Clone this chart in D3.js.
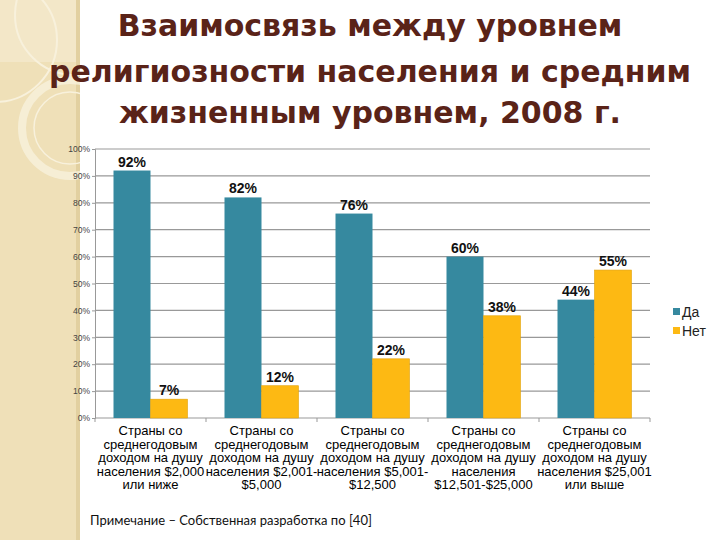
<!DOCTYPE html>
<html>
<head>
<meta charset="utf-8">
<script src="https://cdn.jsdelivr.net/npm/d3@7"></script>
<style>
  html, body { margin: 0; padding: 0; background: #fff; }
  svg { display: block; }
</style>
</head>
<body>
<svg id="chart" width="720" height="540"></svg>
<script>
// значения с диаграммы
const categories = [
  ["Страны со", "среднегодовым", "доходом на душу", "населения $2,000", "или ниже"],
  ["Страны со", "среднегодовым", "доходом на душу", "населения $2,001-", "$5,000"],
  ["Страны со", "среднегодовым", "доходом на душу", "населения $5,001-", "$12,500"],
  ["Страны со", "среднегодовым", "доходом на душу", "населения", "$12,501-$25,000"],
  ["Страны со", "среднегодовым", "доходом на душу", "населения $25,001", "или выше"]
];
const seriesNames = ["Да", "Нет"];
const yesValues = [92, 82, 76, 60, 44];
const noValues = [7, 12, 22, 38, 55];
const yTicks = [0, 10, 20, 30, 40, 50, 60, 70, 80, 90, 100];
const titleLines = [
  "Взаимосвязь между уровнем",
  "религиозности населения и средним",
  "жизненным уровнем, 2008 г."
];
const note = "Примечание – Собственная разработка по [40]";

const colors = ["#36899f", "#fdb913"];

const svg = d3.select("#chart");

// фон слайда: бежевая полоса слева с кругами
const bg = svg.append("g");
bg.append("rect").attr("x", 0).attr("y", 0).attr("width", 80).attr("height", 540).attr("fill", "#efe0b8");
bg.append("rect").attr("x", 0).attr("y", 0).attr("width", 80).attr("height", 62).attr("fill", "#f3e7c8");
bg.append("rect").attr("x", 76).attr("y", 0).attr("width", 4).attr("height", 540).attr("fill", "#e2d0a0");
const deco = bg.append("g").attr("fill", "none").attr("stroke", "#f8f1dc");
deco.append("circle").attr("cx", 75).attr("cy", 15).attr("r", 60).attr("stroke-width", 2);
deco.append("circle").attr("cx", -5).attr("cy", 40).attr("r", 62).attr("stroke-width", 2);
deco.append("circle").attr("cx", 70).attr("cy", 128).attr("r", 48).attr("stroke-width", 8).attr("stroke-opacity", 0.8);
deco.append("circle").attr("cx", 70).attr("cy", 128).attr("r", 36).attr("stroke-width", 1.5);
bg.append("rect").attr("x", 80).attr("y", 0).attr("width", 640).attr("height", 540).attr("fill", "#ffffff");

// заголовок
svg.append("g")
  .selectAll("text")
  .data(titleLines)
  .enter()
  .append("text")
  .attr("x", 370)
  .attr("y", (d, i) => [36, 82, 123][i])
  .attr("text-anchor", "middle")
  .attr("font-family", "'DejaVu Sans', sans-serif")
  .attr("font-weight", 700)
  .attr("font-size", 30)
  .attr("fill", "#5a2318")
  .text(d => d);

// область графика
const plot = { left: 95, right: 650, top: 149, bottom: 418 };

const x0 = d3.scaleBand()
  .domain(d3.range(categories.length))
  .range([plot.left, plot.right])
  .paddingInner(0)
  .paddingOuter(0);

const x1 = d3.scaleBand()
  .domain(seriesNames)
  .range([0, x0.bandwidth()])
  .paddingInner(0)
  .paddingOuter(0.5);

const y = d3.scaleLinear().domain([0, 100]).range([plot.bottom, plot.top]);

// сетка
svg.append("g")
  .selectAll("line")
  .data(yTicks.filter(d => d > 0))
  .enter()
  .append("line")
  .attr("x1", plot.left)
  .attr("x2", plot.right)
  .attr("y1", d => y(d))
  .attr("y2", d => y(d))
  .attr("stroke", "#999")
  .attr("stroke-width", 1.2);

// ось Y
const yAxis = svg.append("g")
  .attr("transform", `translate(${plot.left},0)`)
  .call(d3.axisLeft(y).tickValues(yTicks).tickSize(3).tickFormat(d => d + "%"));
yAxis.select(".domain").attr("stroke", "#999");
yAxis.selectAll(".tick line").attr("stroke", "#999");
yAxis.selectAll(".tick text")
  .attr("font-family", "Arial, 'Liberation Sans', sans-serif")
  .attr("font-size", 8.5)
  .attr("fill", "#444")
  .attr("x", -5);

// ось X
const xAxis = svg.append("g").attr("transform", `translate(0,${plot.bottom})`);
xAxis.append("line")
  .attr("x1", plot.left).attr("x2", plot.right)
  .attr("stroke", "#999").attr("stroke-width", 1.2);
xAxis.selectAll("line.tk")
  .data(d3.range(categories.length + 1))
  .enter()
  .append("line")
  .attr("class", "tk")
  .attr("x1", d => plot.left + d * x0.bandwidth())
  .attr("x2", d => plot.left + d * x0.bandwidth())
  .attr("y1", 0).attr("y2", 4)
  .attr("stroke", "#999");

// столбцы
const rows = categories.map((c, i) => ({ i, values: [yesValues[i], noValues[i]] }));
const groups = svg.append("g")
  .selectAll("g")
  .data(rows)
  .enter()
  .append("g")
  .attr("transform", d => `translate(${x0(d.i)},0)`);

groups.selectAll("rect")
  .data(d => d.values.map((v, k) => ({ name: seriesNames[k], k, v })))
  .enter()
  .append("rect")
  .attr("x", d => x1(d.name))
  .attr("y", d => y(d.v))
  .attr("width", x1.bandwidth())
  .attr("height", d => y(0) - y(d.v))
  .attr("fill", d => colors[d.k])
  .attr("stroke", d => d.k === 1 ? "#e0a20c" : "none")
  .attr("stroke-width", 0.6);

groups.selectAll("text")
  .data(d => d.values.map((v, k) => ({ name: seriesNames[k], k, v })))
  .enter()
  .append("text")
  .attr("x", d => x1(d.name) + x1.bandwidth() / 2)
  .attr("y", d => y(d.v) - 4)
  .attr("text-anchor", "middle")
  .attr("font-family", "Arial, 'Liberation Sans', sans-serif")
  .attr("font-weight", 700)
  .attr("font-size", 14)
  .attr("fill", "#111")
  .text(d => d.v + "%");

// подписи категорий
const catLabels = svg.append("g")
  .selectAll("text")
  .data(categories)
  .enter()
  .append("text")
  .attr("x", (d, i) => x0(i) + x0.bandwidth() / 2)
  .attr("y", 435)
  .attr("text-anchor", "middle")
  .attr("font-family", "Arial, 'Liberation Sans', sans-serif")
  .attr("font-size", 13)
  .attr("fill", "#000");
catLabels.selectAll("tspan")
  .data(d => d)
  .enter()
  .append("tspan")
  .attr("x", function () { return d3.select(this.parentNode).attr("x"); })
  .attr("dy", (d, i) => i === 0 ? 0 : 13.5)
  .text(d => d);

// легенда
const legend = svg.append("g")
  .selectAll("g")
  .data(seriesNames)
  .enter()
  .append("g")
  .attr("transform", (d, i) => `translate(673,${308 + i * 19})`);
legend.append("rect")
  .attr("width", 7).attr("height", 7)
  .attr("fill", (d, i) => colors[i]);
legend.append("text")
  .attr("x", 9).attr("y", 9)
  .attr("font-family", "Arial, 'Liberation Sans', sans-serif")
  .attr("font-size", 14)
  .attr("fill", "#222")
  .text(d => d);

// примечание
svg.append("text")
  .attr("x", 90)
  .attr("y", 525)
  .attr("font-family", "Lato, 'Open Sans', sans-serif")
  .attr("font-size", 13)
  .attr("fill", "#111")
  .text(note);
</script>
</body>
</html>
